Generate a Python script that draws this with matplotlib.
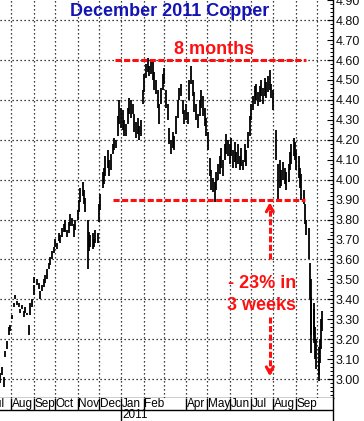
import pandas as pd
import matplotlib
matplotlib.use("Agg")
import matplotlib.pyplot as plt

plt.rcParams['font.family'] = ['Liberation Sans', 'DejaVu Sans']

# Daily bars, Dec 2011 copper futures (high / low)
dates = [
    "2010-07-16", "2010-07-19", "2010-07-21", "2010-07-23", "2010-07-26", "2010-07-28", "2010-07-30",
    "2010-08-02", "2010-08-04", "2010-08-06", "2010-08-09", "2010-08-11", "2010-08-13", "2010-08-16",
    "2010-08-18", "2010-08-20", "2010-08-23", "2010-08-25", "2010-08-27", "2010-08-30",
    "2010-09-01", "2010-09-02", "2010-09-06", "2010-09-08", "2010-09-10", "2010-09-13", "2010-09-15",
    "2010-09-17", "2010-09-20", "2010-09-22", "2010-09-24", "2010-09-27", "2010-09-29",
    "2010-10-01", "2010-10-04", "2010-10-06", "2010-10-08", "2010-10-11", "2010-10-13", "2010-10-15",
    "2010-10-18", "2010-10-20", "2010-10-22", "2010-10-25", "2010-10-27", "2010-10-29",
    "2010-11-01", "2010-11-03", "2010-11-05", "2010-11-08", "2010-11-10", "2010-11-12", "2010-11-15",
    "2010-11-17", "2010-11-19", "2010-11-22", "2010-11-24", "2010-11-26", "2010-11-29",
    "2010-12-01", "2010-12-03", "2010-12-06", "2010-12-08", "2010-12-10", "2010-12-13", "2010-12-15",
    "2010-12-17", "2010-12-20", "2010-12-22", "2010-12-24", "2010-12-27", "2010-12-29", "2010-12-31",
    "2011-01-03", "2011-01-05", "2011-01-07", "2011-01-10", "2011-01-12", "2011-01-14", "2011-01-17",
    "2011-01-19", "2011-01-21", "2011-01-24", "2011-01-26", "2011-01-28", "2011-01-31",
    "2011-02-02", "2011-02-04", "2011-02-07", "2011-02-09", "2011-02-11", "2011-02-14", "2011-02-16",
    "2011-02-18", "2011-02-21", "2011-02-23", "2011-02-25", "2011-02-28",
    "2011-03-02", "2011-03-04", "2011-03-07", "2011-03-09", "2011-03-11", "2011-03-14", "2011-03-16",
    "2011-03-18", "2011-03-21", "2011-03-23", "2011-03-25", "2011-03-28", "2011-03-30",
    "2011-04-01", "2011-04-04", "2011-04-06", "2011-04-08", "2011-04-11", "2011-04-13", "2011-04-15",
    "2011-04-18", "2011-04-20", "2011-04-22", "2011-04-25", "2011-04-27", "2011-04-29",
    "2011-05-02", "2011-05-04", "2011-05-06", "2011-05-09", "2011-05-11", "2011-05-13", "2011-05-16",
    "2011-05-18", "2011-05-20", "2011-05-23", "2011-05-25", "2011-05-27", "2011-05-30",
    "2011-06-01", "2011-06-03", "2011-06-06", "2011-06-08", "2011-06-10", "2011-06-13", "2011-06-15",
    "2011-06-17", "2011-06-20", "2011-06-22", "2011-06-24", "2011-06-27", "2011-06-29",
    "2011-07-01", "2011-07-04", "2011-07-06", "2011-07-08", "2011-07-11", "2011-07-13", "2011-07-15",
    "2011-07-18", "2011-07-20", "2011-07-22", "2011-07-25", "2011-07-27", "2011-07-29",
    "2011-08-01", "2011-08-04", "2011-08-08", "2011-08-10", "2011-08-12", "2011-08-15", "2011-08-17",
    "2011-08-19", "2011-08-22", "2011-08-24", "2011-08-26", "2011-08-29", "2011-08-31",
    "2011-09-02", "2011-09-05", "2011-09-07", "2011-09-09", "2011-09-12", "2011-09-14", "2011-09-16",
    "2011-09-19", "2011-09-21", "2011-09-22", "2011-09-23", "2011-09-26", "2011-09-27", "2011-09-28",
    "2011-09-30", "2011-10-03", "2011-10-04", "2011-10-05", "2011-10-06", "2011-10-07",
]
highs = [
    3.03, 3.06, 3.01, 3.14, 3.19, 3.26, 3.27,
    3.32, 3.38, 3.42, 3.39, 3.38, 3.35, 3.37,
    3.34, 3.36, 3.33, 3.27, 3.38, 3.40,
    3.47, 3.51, 3.50, 3.48, 3.44, 3.47, 3.50,
    3.52, 3.55, 3.58, 3.61, 3.64, 3.66,
    3.70, 3.68, 3.73, 3.72, 3.76, 3.78, 3.80,
    3.75, 3.79, 3.83, 3.81, 3.78, 3.80,
    3.85, 3.90, 3.96, 3.99, 3.95, 3.91, 3.80,
    3.74, 3.72, 3.73, 3.70, 3.75, 3.73,
    3.88, 3.93, 4.04, 4.06, 4.12, 4.15, 4.10,
    4.13, 4.18, 4.21, 4.20, 4.32, 4.40, 4.36,
    4.35, 4.30, 4.28, 4.36, 4.41, 4.40, 4.38,
    4.33, 4.29, 4.31, 4.27, 4.30, 4.45,
    4.53, 4.58, 4.61, 4.57, 4.60, 4.59, 4.54,
    4.50, 4.45, 4.38, 4.46, 4.53,
    4.56, 4.45, 4.38, 4.26, 4.20, 4.24, 4.22,
    4.32, 4.40, 4.46, 4.48, 4.40, 4.35,
    4.38, 4.34, 4.50, 4.57, 4.50, 4.44, 4.38,
    4.33, 4.40, 4.45, 4.42, 4.36, 4.31,
    4.24, 4.11, 4.05, 4.01, 3.99, 4.04, 4.08,
    4.12, 4.16, 4.10, 4.18, 4.23, 4.20,
    4.18, 4.21, 4.15, 4.19, 4.14, 4.18, 4.12,
    4.16, 4.10, 4.18, 4.15, 4.24, 4.32,
    4.38, 4.42, 4.47, 4.48, 4.44, 4.47, 4.50,
    4.46, 4.51, 4.49, 4.52, 4.55, 4.48,
    4.45, 4.25, 4.08, 4.10, 4.05, 4.09, 4.06,
    4.04, 4.08, 4.14, 4.18, 4.21, 4.19,
    4.15, 4.12, 4.06, 4.03, 3.95, 3.88, 3.80,
    3.76, 3.58, 3.50, 3.41, 3.38, 3.35, 3.26,
    3.20, 3.16, 3.10, 3.20, 3.30, 3.34,
]
lows = [
    2.98, 3.02, 2.96, 3.11, 3.15, 3.22, 3.24,
    3.30, 3.36, 3.40, 3.37, 3.36, 3.33, 3.35,
    3.31, 3.33, 3.32, 3.22, 3.32, 3.36,
    3.42, 3.48, 3.47, 3.45, 3.40, 3.44, 3.46,
    3.48, 3.50, 3.55, 3.57, 3.60, 3.63,
    3.66, 3.65, 3.69, 3.68, 3.71, 3.74, 3.74,
    3.71, 3.73, 3.77, 3.77, 3.71, 3.75,
    3.80, 3.84, 3.89, 3.92, 3.88, 3.84, 3.55,
    3.64, 3.66, 3.65, 3.66, 3.68, 3.68,
    3.79, 3.85, 3.96, 3.98, 4.02, 4.06, 4.02,
    4.05, 4.13, 4.15, 4.16, 4.22, 4.28, 4.26,
    4.25, 4.22, 4.22, 4.28, 4.33, 4.31, 4.33,
    4.24, 4.21, 4.23, 4.20, 4.22, 4.38,
    4.44, 4.51, 4.54, 4.52, 4.53, 4.50, 4.45,
    4.43, 4.36, 4.28, 4.38, 4.45,
    4.48, 4.36, 4.30, 4.18, 4.13, 4.16, 4.15,
    4.23, 4.31, 4.40, 4.42, 4.33, 4.28,
    4.30, 4.28, 4.40, 4.48, 4.42, 4.34, 4.30,
    4.26, 4.32, 4.36, 4.32, 4.27, 4.22,
    4.15, 4.02, 3.95, 3.94, 3.89, 3.95, 4.00,
    4.03, 4.06, 4.02, 4.10, 4.13, 4.12,
    4.08, 4.12, 4.06, 4.09, 4.06, 4.08, 4.05,
    4.07, 4.05, 4.09, 4.07, 4.16, 4.22,
    4.30, 4.35, 4.38, 4.40, 4.37, 4.39, 4.42,
    4.38, 4.42, 4.41, 4.44, 4.45, 4.41,
    4.35, 4.10, 3.90, 3.96, 3.97, 4.00, 3.98,
    3.95, 3.99, 4.05, 4.08, 4.12, 4.10,
    4.05, 4.01, 3.96, 3.90, 3.88, 3.78, 3.72,
    3.60, 3.40, 3.22, 3.13, 3.18, 3.22, 3.10,
    3.05, 3.02, 2.99, 3.08, 3.15, 3.24,
]

month_starts = pd.date_range("2010-07-01", "2011-10-01", freq="MS")
month_names = ["Jul", "Aug", "Sep", "Oct", "Nov", "Dec", "Jan", "Feb", "", "Apr",
               "May", "Jun", "Jul", "Aug", "Sep", ""]

red = "#ff1010"
W, H = 364, 421

fig = plt.figure(figsize=(W / 100, H / 100), dpi=100)
fig.patch.set_facecolor("white")
ax = fig.add_axes([0, 23 / H, 333 / W, 398 / H])
ax2 = fig.add_axes([0, 0, 333 / W, 23 / H], sharex=ax)

x = pd.to_datetime(dates)
ax.vlines(x, lows, highs, color="black", lw=1.3)

ax.set_xlim(pd.Timestamp("2010-07-16"), pd.Timestamp("2011-10-23"))
ax.set_ylim(2.905, 4.901)

# dotted grid
for lvl in [3.0, 3.2, 3.4, 3.6, 3.8, 4.0, 4.2, 4.4, 4.6, 4.8]:
    ax.axhline(lvl, color="black", lw=0.9, ls=(0, (1, 2.2)), zorder=0)
for m in month_starts[1:]:
    ax.axvline(m, color="black", lw=0.9, ls=(0, (1, 2.2)), zorder=0)

# price axis on the right
ax.yaxis.tick_right()
ax.set_yticks([3.0 + 0.1 * i for i in range(20)])
ax.set_yticklabels([f"{3.0 + 0.1 * i:.2f}" for i in range(20)])
ax.set_yticks([2.92 + 0.02 * i for i in range(100) if 2.92 + 0.02 * i < 4.9], minor=True)
ax.tick_params(axis="y", which="major", direction="in", length=4.5, width=0.8, pad=2,
               labelsize=9, colors="black", labelcolor="#111111")
ax.tick_params(axis="y", which="minor", direction="in", length=2.2, width=0.7)
ax.tick_params(axis="x", length=0, labelbottom=False)
for s in ["top", "left"]:
    ax.spines[s].set_visible(False)
ax.spines["right"].set_linewidth(1)
ax.spines["bottom"].set_linewidth(1)

# annotations
ax.hlines(4.60, pd.Timestamp("2010-12-23"), pd.Timestamp("2011-09-15"),
          color=red, lw=2.2, ls=(0, (2.0, 0.8)), zorder=3)
ax.hlines(3.90, pd.Timestamp("2010-12-20"), pd.Timestamp("2011-09-14"),
          color=red, lw=2.2, ls=(0, (2.0, 0.8)), zorder=3)
arrow_x = pd.Timestamp("2011-07-27")
ax.plot([arrow_x, arrow_x], [3.60, 3.87], color=red, lw=2.2, ls=(0, (2.0, 0.8)))
ax.annotate("", xy=(arrow_x, 3.90), xytext=(arrow_x, 3.84),
            arrowprops=dict(arrowstyle="->,head_length=0.45,head_width=0.25", color=red, lw=2.2))
ax.plot([arrow_x, arrow_x], [3.31, 3.03], color=red, lw=2.2, ls=(0, (2.0, 0.8)))
ax.annotate("", xy=(arrow_x, 3.00), xytext=(arrow_x, 3.06),
            arrowprops=dict(arrowstyle="->,head_length=0.45,head_width=0.25", color=red, lw=2.2))

ax.text(pd.Timestamp("2011-05-10"), 4.655, "8 months", color=red, fontsize=13,
        fontweight="bold", ha="center", va="center")
ax.text(pd.Timestamp("2011-07-16"), 3.48, "- 23% in", color=red, fontsize=13,
        fontweight="bold", ha="center", va="center")
ax.text(pd.Timestamp("2011-07-16"), 3.37, "3 weeks", color=red, fontsize=13,
        fontweight="bold", ha="center", va="center")
ax.text(0.51, 0.97, "December 2011 Copper", transform=ax.transAxes, color="#1414b4",
        fontsize=13, fontweight="bold", ha="center", va="center")

# date band underneath
ax2.set_ylim(0, 23)
for s in ["top", "left", "bottom"]:
    ax2.spines[s].set_visible(False)
ax2.spines["right"].set_linewidth(1)
ax2.set_xticks([])
ax2.set_yticks([])
ax2.axhline(11, color="black", lw=1)
for m, name in zip(month_starts, month_names):
    if name:
        ax2.vlines(m, 11, 23, color="black", lw=1)
        ax2.text(m + pd.Timedelta(days=1), 16.8, name, fontsize=8.5, ha="left", va="center",
                 clip_on=True)
jan = pd.Timestamp("2011-01-01")
ax2.vlines(jan, 0, 11, color="black", lw=1)
ax2.text(jan + pd.Timedelta(days=1), 5.5, "2011", fontsize=8.5, ha="left", va="center")

fig.savefig("out.png", dpi=100, facecolor="white")
